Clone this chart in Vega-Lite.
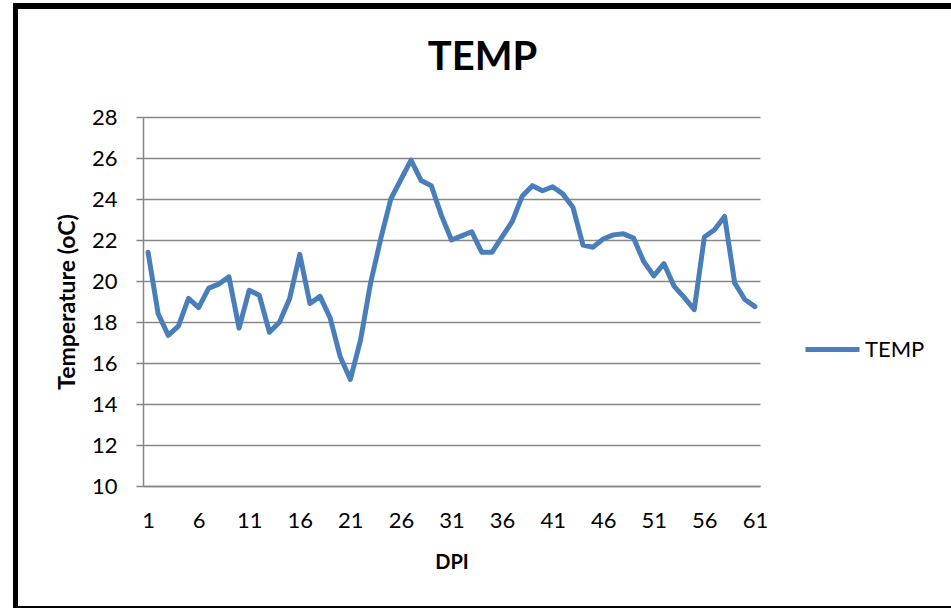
{
  "$schema": "https://vega.github.io/schema/vega-lite/v6.json",
  "width": 617,
  "height": 369,
  "autosize": {"type": "none"},
  "padding": {"left": 143, "top": 117, "right": 191, "bottom": 122},
  "background": "white",
  "title": {
    "text": "TEMP",
    "fontSize": 40,
    "fontWeight": "bold",
    "font": "Lato",
    "color": "#000000",
    "anchor": "middle",
    "dx": 31,
    "offset": -77
  },
  "config": {
    "view": {"stroke": null},
    "font": "Lato"
  },
  "data": {
    "values": [
      {"DPI": 1, "TEMP": 21.4, "series": "TEMP"},
      {"DPI": 2, "TEMP": 18.4, "series": "TEMP"},
      {"DPI": 3, "TEMP": 17.35, "series": "TEMP"},
      {"DPI": 4, "TEMP": 17.8, "series": "TEMP"},
      {"DPI": 5, "TEMP": 19.15, "series": "TEMP"},
      {"DPI": 6, "TEMP": 18.7, "series": "TEMP"},
      {"DPI": 7, "TEMP": 19.65, "series": "TEMP"},
      {"DPI": 8, "TEMP": 19.85, "series": "TEMP"},
      {"DPI": 9, "TEMP": 20.2, "series": "TEMP"},
      {"DPI": 10, "TEMP": 17.7, "series": "TEMP"},
      {"DPI": 11, "TEMP": 19.55, "series": "TEMP"},
      {"DPI": 12, "TEMP": 19.3, "series": "TEMP"},
      {"DPI": 13, "TEMP": 17.5, "series": "TEMP"},
      {"DPI": 14, "TEMP": 18.0, "series": "TEMP"},
      {"DPI": 15, "TEMP": 19.15, "series": "TEMP"},
      {"DPI": 16, "TEMP": 21.3, "series": "TEMP"},
      {"DPI": 17, "TEMP": 18.9, "series": "TEMP"},
      {"DPI": 18, "TEMP": 19.25, "series": "TEMP"},
      {"DPI": 19, "TEMP": 18.2, "series": "TEMP"},
      {"DPI": 20, "TEMP": 16.3, "series": "TEMP"},
      {"DPI": 21, "TEMP": 15.2, "series": "TEMP"},
      {"DPI": 22, "TEMP": 17.1, "series": "TEMP"},
      {"DPI": 23, "TEMP": 19.9, "series": "TEMP"},
      {"DPI": 24, "TEMP": 22.05, "series": "TEMP"},
      {"DPI": 25, "TEMP": 24.0, "series": "TEMP"},
      {"DPI": 26, "TEMP": 24.95, "series": "TEMP"},
      {"DPI": 27, "TEMP": 25.9, "series": "TEMP"},
      {"DPI": 28, "TEMP": 24.9, "series": "TEMP"},
      {"DPI": 29, "TEMP": 24.65, "series": "TEMP"},
      {"DPI": 30, "TEMP": 23.2, "series": "TEMP"},
      {"DPI": 31, "TEMP": 22.0, "series": "TEMP"},
      {"DPI": 32, "TEMP": 22.2, "series": "TEMP"},
      {"DPI": 33, "TEMP": 22.4, "series": "TEMP"},
      {"DPI": 34, "TEMP": 21.4, "series": "TEMP"},
      {"DPI": 35, "TEMP": 21.4, "series": "TEMP"},
      {"DPI": 36, "TEMP": 22.15, "series": "TEMP"},
      {"DPI": 37, "TEMP": 22.9, "series": "TEMP"},
      {"DPI": 38, "TEMP": 24.15, "series": "TEMP"},
      {"DPI": 39, "TEMP": 24.65, "series": "TEMP"},
      {"DPI": 40, "TEMP": 24.4, "series": "TEMP"},
      {"DPI": 41, "TEMP": 24.6, "series": "TEMP"},
      {"DPI": 42, "TEMP": 24.25, "series": "TEMP"},
      {"DPI": 43, "TEMP": 23.6, "series": "TEMP"},
      {"DPI": 44, "TEMP": 21.75, "series": "TEMP"},
      {"DPI": 45, "TEMP": 21.65, "series": "TEMP"},
      {"DPI": 46, "TEMP": 22.05, "series": "TEMP"},
      {"DPI": 47, "TEMP": 22.25, "series": "TEMP"},
      {"DPI": 48, "TEMP": 22.3, "series": "TEMP"},
      {"DPI": 49, "TEMP": 22.1, "series": "TEMP"},
      {"DPI": 50, "TEMP": 20.95, "series": "TEMP"},
      {"DPI": 51, "TEMP": 20.25, "series": "TEMP"},
      {"DPI": 52, "TEMP": 20.85, "series": "TEMP"},
      {"DPI": 53, "TEMP": 19.75, "series": "TEMP"},
      {"DPI": 54, "TEMP": 19.2, "series": "TEMP"},
      {"DPI": 55, "TEMP": 18.6, "series": "TEMP"},
      {"DPI": 56, "TEMP": 22.15, "series": "TEMP"},
      {"DPI": 57, "TEMP": 22.5, "series": "TEMP"},
      {"DPI": 58, "TEMP": 23.15, "series": "TEMP"},
      {"DPI": 59, "TEMP": 19.9, "series": "TEMP"},
      {"DPI": 60, "TEMP": 19.1, "series": "TEMP"},
      {"DPI": 61, "TEMP": 18.75, "series": "TEMP"}
    ]
  },
  "layer": [
    {
      "mark": {"type": "line", "strokeWidth": 5, "strokeJoin": "round", "strokeCap": "round"},
      "encoding": {
        "x": {
          "field": "DPI",
          "type": "quantitative",
          "scale": {"domain": [0.5, 61.5], "nice": false, "zero": false},
          "axis": {
            "title": "DPI",
            "values": [1, 6, 11, 16, 21, 26, 31, 36, 41, 46, 51, 56, 61],
            "ticks": false,
            "grid": false,
            "domainColor": "#868686",
            "domainWidth": 1.5,
            "labelFontSize": 22,
            "labelColor": "#000000",
            "labelPadding": 24,
            "labelFont": "Lato",
            "titleFont": "Lato",
            "titleFontSize": 20,
            "titleFontWeight": "bold",
            "titleColor": "#000000",
            "titlePadding": 21
          }
        },
        "y": {
          "field": "TEMP",
          "type": "quantitative",
          "scale": {"domain": [10, 28], "nice": false, "zero": false},
          "axis": {
            "title": "Temperature (oC)",
            "values": [10, 12, 14, 16, 18, 20, 22, 24, 26, 28],
            "tickSize": 7,
            "tickColor": "#868686",
            "tickWidth": 1.5,
            "domainColor": "#868686",
            "domainWidth": 1.5,
            "gridColor": "#868686",
            "gridWidth": 1.5,
            "labelFontSize": 22,
            "labelColor": "#000000",
            "labelPadding": 19,
            "labelFont": "Lato",
            "titleFont": "Lato",
            "titleFontSize": 23,
            "titleFontWeight": "bold",
            "titleColor": "#000000",
            "titlePadding": 12
          }
        },
        "color": {
          "field": "series",
          "type": "nominal",
          "scale": {"range": ["#4A7EBB"]},
          "legend": {
            "title": null,
            "orient": "none",
            "legendX": 660,
            "legendY": 203,
            "symbolType": "stroke",
            "symbolSize": 2916,
            "symbolStrokeWidth": 5,
            "labelFontSize": 22,
            "labelFont": "Lato",
            "labelColor": "#000000",
            "labelOffset": 3
          }
        }
      }
    },
    {
      "mark": {"type": "rule", "color": "#000000", "strokeWidth": 5},
      "encoding": {
        "x": {"value": -127.5},
        "y": {"value": -114},
        "y2": {"value": 492}
      }
    },
    {
      "mark": {"type": "rule", "color": "#000000", "strokeWidth": 5},
      "encoding": {
        "x": {"value": -130},
        "x2": {"value": 808},
        "y": {"value": -111}
      }
    },
    {
      "mark": {"type": "rule", "color": "#000000", "strokeWidth": 2},
      "encoding": {
        "x": {"value": -130},
        "x2": {"value": 808},
        "y": {"value": 490}
      }
    }
  ]
}
